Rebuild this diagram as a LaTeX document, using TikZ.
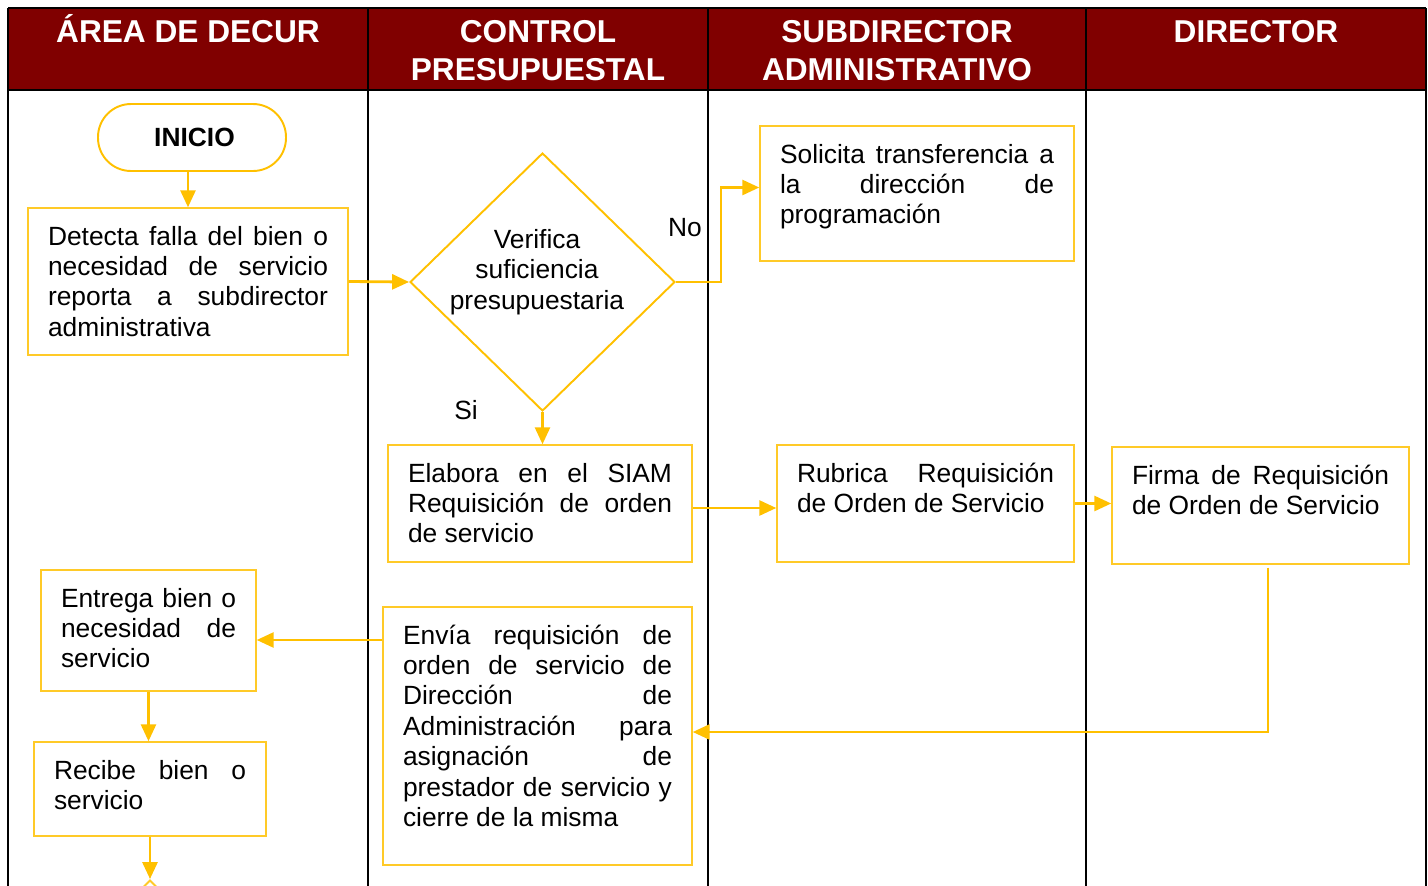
\documentclass[tikz,border=0pt]{standalone}
\usepackage{fontspec}
\setmainfont{Liberation Sans}
\usetikzlibrary{shapes.geometric}
\usetikzlibrary{arrows.meta}
\definecolor{guinda}{HTML}{800000}
\definecolor{amarillo}{HTML}{FFC000}
\definecolor{amarillocaja}{HTML}{FFCA28}
\newcommand{\jline}[1]{\makebox[\linewidth][s]{#1}\\}
\newcommand{\tope}{\rule{0pt}{0.74cm}}

\begin{document}
\begin{tikzpicture}[x=0.02cm, y=-0.02cm,
  caja/.style = {draw=amarillocaja, line width=0.85pt, inner xsep=0.4cm, inner ysep=0pt, font=\fontsize{15pt}{17.3pt}\selectfont},
  flecha/.style = {draw=amarillo, line width=1.6pt, -{Triangle[length=0.34cm, width=0.3cm]}},
  titulo/.style = {text=white, font=\fontsize{18pt}{21.5pt}\selectfont\bfseries, align=center, anchor=north, inner sep=0pt},
  etiqueta/.style = {font=\fontsize{15pt}{17.3pt}\selectfont}]

\useasboundingbox (0,0) rectangle (1428,886);
\clip (0,0) rectangle (1428,886);

% encabezado y carriles
\fill[guinda] (8,8) rectangle (1426,90);
\draw[line width=1.2pt] (8,8) -- (1426,8);
\draw[line width=1.2pt] (8,90) -- (1426,90);
\foreach \x in {8,368,708,1086,1426}
  \draw[line width=1.2pt] (\x,8) -- (\x,890);

\node[titulo] (hdecur) at (188,12) {\rule{0pt}{0.6cm}ÁREA DE DECUR};
\node[titulo] (hcontrol) at (538,12) {\rule{0pt}{0.6cm}CONTROL\\PRESUPUESTAL};
\node[titulo] (hsubdir) at (897,12) {\rule{0pt}{0.6cm}SUBDIRECTOR\\ADMINISTRATIVO};
\node[titulo] (hdir) at (1256,12) {\rule{0pt}{0.6cm}DIRECTOR};

% area de decur
\node[draw=amarillo, line width=1.1pt, rounded corners=0.66cm, minimum width=3.76cm, minimum height=1.34cm,
  font=\fontsize{15pt}{17.3pt}\selectfont\bfseries] (inicio) at (192,137.5) {\hspace{0.1cm}INICIO};

\node[caja] (detecta) at (188,281.5) {\parbox[c][2.94cm][t]{5.6cm}{\tope\jline{Detecta falla del bien o}\jline{necesidad de servicio}\jline{reporta a subdirector}administrativa}};

\node[caja] (entrega) at (148.5,630.5) {\parbox[c][2.42cm][t]{3.5cm}{\tope\jline{Entrega bien o}\jline{necesidad de}servicio}};

\node[caja] (recibe) at (150,789) {\parbox[c][1.88cm][t]{3.84cm}{\tope\jline{Recibe bien o}servicio}};

\node[diamond, draw=amarillocaja, line width=1.1pt, minimum width=1cm, minimum height=1cm, inner sep=0pt] (fin) at (150,905) {};

% control presupuestal
\node[diamond, draw=amarillo, line width=1.1pt, minimum width=5.3cm, minimum height=5.16cm, inner sep=0pt] (verifica) at (542.5,282) {};
\node[etiqueta, align=center] (verificatxt) at (537,272) {Verifica\\suficiencia\\presupuestaria};

\node[caja] (elabora) at (540,503.5) {\parbox[c][2.34cm][t]{5.28cm}{\tope\jline{Elabora en el SIAM}\jline{Requisición de orden}de servicio}};

\node[caja] (envia) at (537.5,736) {\parbox[c][5.16cm][t]{5.38cm}{\tope\jline{Envía requisición de}\jline{orden de servicio de}\jline{Dirección de}\jline{Administración para}\jline{asignación de}\jline{prestador de servicio y}cierre de la misma}};

% subdirector administrativo
\node[caja] (solicita) at (917,193.5) {\parbox[c][2.7cm][t]{5.48cm}{\tope\jline{Solicita transferencia a}\jline{la dirección de}programación}};

\node[caja] (rubrica) at (925.5,503.5) {\parbox[c][2.34cm][t]{5.14cm}{\tope\jline{Rubrica Requisición}de Orden de Servicio}};

% director
\node[caja] (firma) at (1260.5,505.5) {\parbox[c][2.34cm][t]{5.14cm}{\tope\jline{Firma de Requisición}de Orden de Servicio}};

% flechas
\draw[flecha] (inicio.south -| detecta.north) -- (detecta.north);
\draw[flecha] (detecta.east) -- (verifica.west);
\draw[flecha] (verifica.east) -- ++(45,0) |- ([yshift=0.12cm]solicita.west);
\node[etiqueta] (no) at (685,228) {No};
\draw[flecha] (verifica.south) -- (verifica.south |- elabora.north);
\node[etiqueta] (si) at (466,410) {Si};
\draw[flecha] ([yshift=-0.09cm]elabora.east) -- ([yshift=-0.09cm]elabora.east -| rubrica.west);
\draw[flecha] (rubrica.east) -- (rubrica.east -| firma.west);
\draw[flecha] ([xshift=0.15cm, yshift=-0.06cm]firma.south) |- ([yshift=0.08cm]envia.east);
\draw[flecha] ([yshift=-0.19cm]envia.west |- entrega.east) -- ([yshift=-0.19cm]entrega.east);
\draw[flecha] (entrega.south) -- (entrega.south |- recibe.north);
\draw[flecha] (recibe.south) -- (fin.north);

\end{tikzpicture}
\end{document}
